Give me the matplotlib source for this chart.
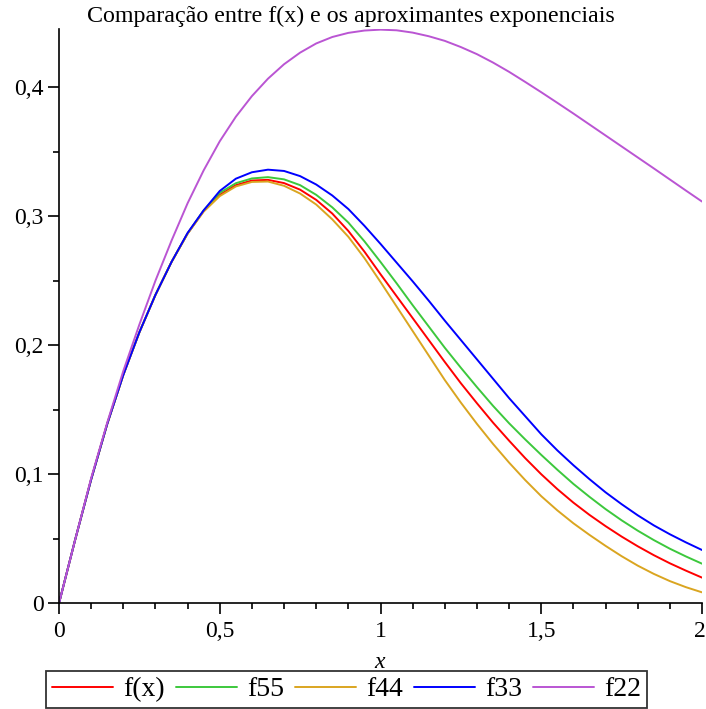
import matplotlib
matplotlib.use("Agg")
import matplotlib.pyplot as plt
from matplotlib.ticker import MultipleLocator, FuncFormatter

plt.rcParams["font.family"] = ["Liberation Serif", "DejaVu Serif"]

# values (step 0.05)
x_vals = [0.00, 0.05, 0.10, 0.15, 0.20, 0.25, 0.30, 0.35, 0.40, 0.45,
          0.50, 0.55, 0.60, 0.65, 0.70, 0.75, 0.80, 0.85, 0.90, 0.95,
          1.00, 1.05, 1.10, 1.15, 1.20, 1.25, 1.30, 1.35, 1.40, 1.45,
          1.50, 1.55, 1.60, 1.65, 1.70, 1.75, 1.80, 1.85, 1.90, 1.95, 2.00]
f_x = [0, 0.049, 0.096, 0.139, 0.177, 0.210, 0.239, 0.2645, 0.2865, 0.304,
       0.3165, 0.3240, 0.3276, 0.3281, 0.3256, 0.3205, 0.3126, 0.3020, 0.2885, 0.2725,
       0.2550, 0.2380, 0.2210, 0.2040, 0.1870, 0.1705, 0.1550, 0.1400, 0.1260, 0.1125,
       0.1000, 0.0885, 0.0780, 0.0685, 0.0598, 0.0517, 0.0442, 0.0373, 0.0310, 0.0253, 0.0199]
f55 = [0, 0.049, 0.096, 0.139, 0.177, 0.210, 0.239, 0.2645, 0.2865, 0.3045,
       0.3180, 0.3255, 0.3292, 0.3302, 0.3285, 0.3240, 0.3165, 0.3068, 0.2950, 0.2805,
       0.2645, 0.2480, 0.2310, 0.2145, 0.1980, 0.1825, 0.1675, 0.1530, 0.1395, 0.1270,
       0.1150, 0.1035, 0.0925, 0.0825, 0.0730, 0.0643, 0.0563, 0.0490, 0.0423, 0.0363, 0.0307]
f44 = [0, 0.049, 0.096, 0.139, 0.177, 0.210, 0.239, 0.2645, 0.2865, 0.3035,
       0.3155, 0.3230, 0.3265, 0.3268, 0.3235, 0.3175, 0.3090, 0.2975, 0.2840, 0.2675,
       0.2490, 0.2300, 0.2110, 0.1920, 0.1730, 0.1555, 0.1390, 0.1235, 0.1090, 0.0955,
       0.0830, 0.0720, 0.0620, 0.0530, 0.0445, 0.0365, 0.0292, 0.0228, 0.0172, 0.0125, 0.0085]
f33 = [0, 0.049, 0.096, 0.139, 0.177, 0.210, 0.239, 0.2645, 0.2870, 0.3045,
       0.3195, 0.3290, 0.3340, 0.3360, 0.3350, 0.3310, 0.3245, 0.3160, 0.3055, 0.2925,
       0.2785, 0.2640, 0.2495, 0.2345, 0.2190, 0.2040, 0.1890, 0.1740, 0.1590, 0.1450,
       0.1310, 0.1185, 0.1070, 0.0962, 0.0860, 0.0768, 0.0682, 0.0604, 0.0535, 0.0472, 0.0413]
f22 = [0, 0.049, 0.097, 0.140, 0.180, 0.216, 0.250, 0.281, 0.310, 0.3355,
       0.358, 0.377, 0.393, 0.4065, 0.4177, 0.4267, 0.4338, 0.4388, 0.4420, 0.4438,
       0.4445, 0.4440, 0.4422, 0.4394, 0.4358, 0.4310, 0.4255, 0.4190, 0.4118, 0.4040,
       0.3960, 0.3878, 0.3795, 0.3710, 0.3625, 0.3540, 0.3455, 0.3370, 0.3284, 0.3198, 0.3113]

labels = ["f(x)", "f55", "f44", "f33", "f22"]
colors = ["#FF0000", "#3CC83C", "#DAA520", "#0000FF", "#BA55D3"]
series = [f_x, f55, f44, f33, f22]

TITLE = "Comparação entre f(x) e os aproximantes exponenciais"

W, H = 706, 709
fig = plt.figure(figsize=(W / 100, H / 100), dpi=100)
ax = fig.add_axes([59 / W, (H - 603.3) / H, 643 / W, 574.3 / H])

for ys, c, lab in zip(series, colors, labels):
    ax.plot(x_vals, ys, color=c, lw=1.4, label=lab,
            solid_joinstyle="round", solid_capstyle="round")

ax.set_xlim(0, 2)
ax.set_ylim(0, 0.445)
ax.spines[["top", "right"]].set_visible(False)
for s in ("left", "bottom"):
    ax.spines[s].set_linewidth(1.2)


def comma_x(v, _):
    # the label at the right end is drawn separately so it stays on the canvas
    if abs(v - 2) < 1e-9:
        return ""
    return f"{v:g}".replace(".", ",")


ax.xaxis.set_major_locator(MultipleLocator(0.5))
ax.xaxis.set_minor_locator(MultipleLocator(0.1))
ax.yaxis.set_major_locator(MultipleLocator(0.1))
ax.yaxis.set_minor_locator(MultipleLocator(0.05))
ax.xaxis.set_major_formatter(FuncFormatter(comma_x))
ax.yaxis.set_major_formatter(FuncFormatter(lambda v, _: f"{v:g}".replace(".", ",")))
ax.tick_params(which="major", length=8, width=1.2, labelsize=17, direction="out")
ax.tick_params(which="minor", length=4.5, width=1.2, direction="out")
ax.tick_params(axis="x", pad=5)
ax.tick_params(axis="y", pad=3)

label_top = 603.3 + (8 + 5) * 100 / 72
fig.text(705.5 / W, 1 - label_top / H, "2", ha="right", va="top", fontsize=17)

fig.text(0.497, 1 - 16 / H, TITLE, ha="center", va="center", fontsize=17.3)
fig.text(380 / W, 1 - 663 / H, "x", ha="center", va="center", fontsize=17, style="italic")

handles, labs = ax.get_legend_handles_labels()
leg = fig.legend(handles, labs, loc="center", bbox_to_anchor=(346.5 / W, 1 - 689.5 / H),
                 ncol=5, fontsize=20, frameon=True, fancybox=False, edgecolor="black",
                 handlelength=2.2, handletextpad=0.36, columnspacing=0.4,
                 borderpad=0.2, borderaxespad=0)
leg.get_frame().set_linewidth(1.3)

fig.savefig("out.png", dpi=100, facecolor="white")
